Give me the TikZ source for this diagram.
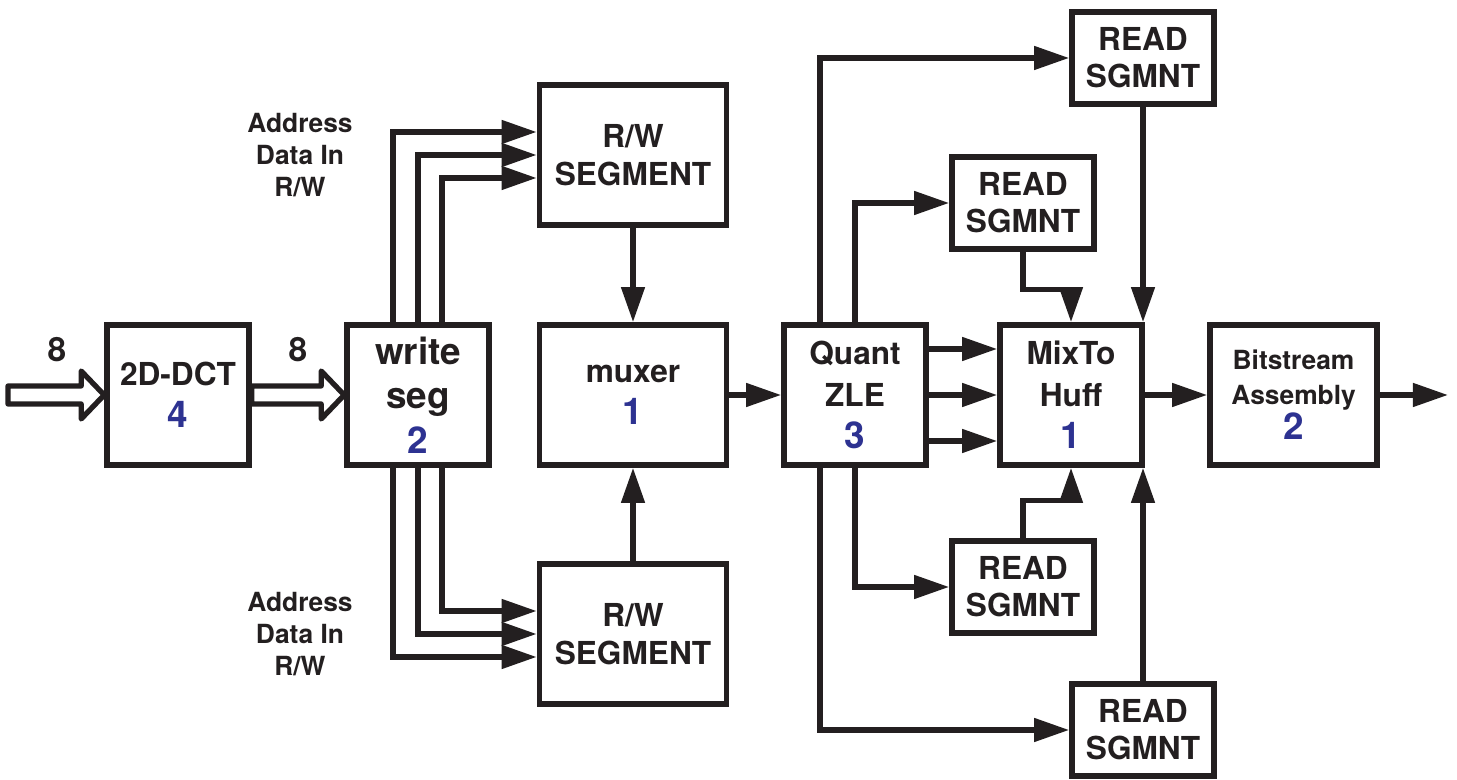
\documentclass[tikz,border=0pt]{standalone}
\usepackage{fontspec}
\setmainfont{TeX Gyre Heros}
\usetikzlibrary{arrows.meta,calc}
\definecolor{ink}{RGB}{35,31,32}
\definecolor{unitblue}{RGB}{45,50,145}
\newcommand\unitno[1]{{\color{unitblue}\fontsize{10.5}{12}\selectfont #1}}
\tikzset{
  box/.style={draw=ink, line width=1.6pt, fill=white, align=center, inner sep=0pt,
    text=ink, font=\bfseries\fontsize{9}{12}\selectfont},
  blk/.style={box, minimum width=14.2mm, minimum height=14mm},
  rwbox/.style={box, minimum width=18.7mm, minimum height=14mm,
    font=\bfseries\fontsize{9}{10.8}\selectfont},
  rdbox/.style={box, minimum width=14.2mm, minimum height=9.2mm,
    font=\bfseries\fontsize{9}{10.5}\selectfont},
  wire/.style={draw=ink, line width=1.5pt, -{Triangle[length=10pt,width=6.5pt]}},
  fat/.style={draw=ink, line width=1.5pt, fill=white, line join=round},
  lbl/.style={text=ink, align=center, font=\bfseries\fontsize{7.5}{9}\selectfont},
  bus/.style={text=ink, font=\bfseries\fontsize{9.5}{11}\selectfont},
}
\begin{document}
\begin{tikzpicture}[x=0.1mm, y=-0.1mm]
\useasboundingbox (0,0) rectangle (1457,780);

% processing blocks
\node[blk] (dct) at (178,395) {2D-DCT\\\unitno{4}};
\node[blk, font=\bfseries\fontsize{10.5}{12.6}\selectfont] (ws) at (418,395) {write\\seg\\\unitno{2}};
\node[rwbox] (rw1) at (633,155) {R/W\\SEGMENT};
\node[blk, minimum width=18.7mm] (mux) at (633,395) {muxer\\\unitno{1}};
\node[rwbox] (rw2) at (633,634) {R/W\\SEGMENT};
\node[blk] (qz) at (855,395) {Quant\\ZLE\\\unitno{3}};
\node[blk] (mth) at (1071,395) {MixTo\\Huff\\\unitno{1}};
\node[blk, minimum width=16.7mm, font=\bfseries\fontsize{7.5}{10}\selectfont] (bsa) at (1293.5,395)
  {Bitstream\\Assembly\\\unitno{2}};

% read segments
\node[rdbox] (rs1) at (1143,58) {READ\\SGMNT};
\node[rdbox] (rs2) at (1023,203) {READ\\SGMNT};
\node[rdbox] (rs3) at (1023,587) {READ\\SGMNT};
\node[rdbox] (rs4) at (1143,730) {READ\\SGMNT};

% side labels
\node[lbl] (lt) at (300,155) {Address\\Data In\\R/W};
\node[lbl] (lb) at (300,634) {Address\\Data In\\R/W};
\node[bus] (w1) at (57,350) {8};
\node[bus] (w2) at (298,350) {8};

\coordinate (src) at (8,395);
\coordinate (out) at (1448,395);

% 8-bit bus arrows
\draw[fat] ($(src)+(0,-9)$) -- ($(dct.west)+(-23,-9)$) -- ($(dct.west)+(-23,-24)$)
  -- (dct.west) -- ($(dct.west)+(-23,24)$) -- ($(dct.west)+(-23,9)$)
  -- ($(src)+(0,9)$) -- cycle;
\draw[fat] ($(dct.east)+(0,-9)$) -- ($(ws.west)+(-23,-9)$) -- ($(ws.west)+(-23,-24)$)
  -- (ws.west) -- ($(ws.west)+(-23,24)$) -- ($(ws.west)+(-23,9)$)
  -- ($(dct.east)+(0,9)$) -- cycle;

% write segment to the two R/W segments
\draw[wire] ($(ws.north)+(-25,0)$) |- ($(rw1.west)+(0,-23)$);
\draw[wire] (ws.north) |- (rw1.west);
\draw[wire] ($(ws.north)+(24,0)$) |- ($(rw1.west)+(0,23)$);
\draw[wire] ($(ws.south)+(24,0)$) |- ($(rw2.west)+(0,-23)$);
\draw[wire] (ws.south) |- (rw2.west);
\draw[wire] ($(ws.south)+(-25,0)$) |- ($(rw2.west)+(0,23)$);

% main path
\draw[wire] (rw1) -- (mux);
\draw[wire] (rw2) -- (mux);
\draw[wire] (mux) -- (qz);
\draw[wire] (mth) -- (bsa);
\draw[wire] (bsa) -- (out);

% quantizer outputs
\draw[wire] ($(qz.north)+(-35,0)$) |- (rs1.west);
\draw[wire] (qz.north) |- (rs2.west);
\draw[wire] (qz.south) |- (rs3.west);
\draw[wire] ($(qz.south)+(-35,0)$) |- (rs4.west);
\draw[wire] ($(qz.east)+(0,-46)$) -- ($(mth.west)+(0,-46)$);
\draw[wire] (qz.east) -- (mth.west);
\draw[wire] ($(qz.east)+(0,46)$) -- ($(mth.west)+(0,46)$);

% read segments into the mixer
\draw[wire] (rs2.south) -- ++(0,38) -| (mth.north);
\draw[wire] (rs3.north) -- ++(0,-38) -| (mth.south);
\draw[wire] (rs1.south) -- (rs1.south |- mth.north);
\draw[wire] (rs4.north) -- (rs4.north |- mth.south);
\end{tikzpicture}
\end{document}
